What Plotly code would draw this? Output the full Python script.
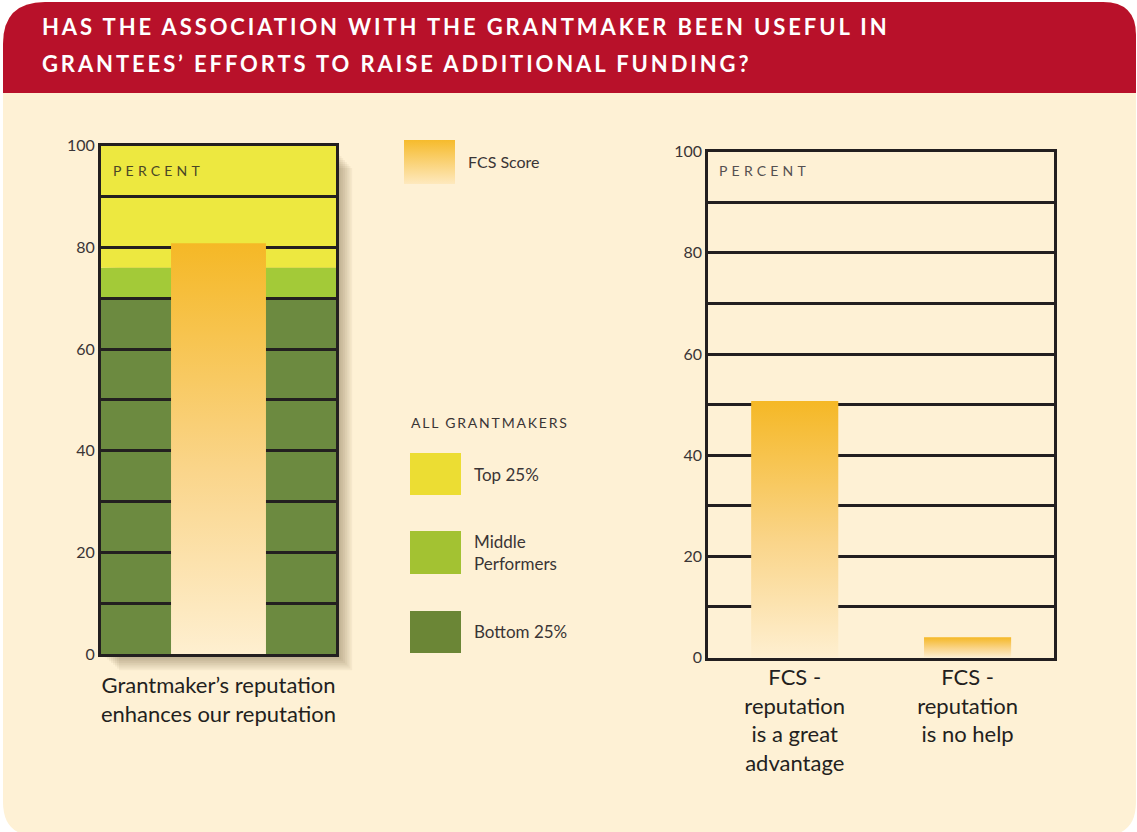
import plotly.graph_objects as go

W, H = 1137, 832

# ---------------- data ----------------
band_names = ["Bottom 25%", "Middle Performers", "Top 25%"]
band_lower = [0, 70, 76]
band_upper = [70, 76, 100]
band_colors = ["#6C8A40", "#A3CA38", "#EDE840"]
legend_colors = ["#6B8636", "#A3C232", "#ECDD33"]

left_categories = ["Grantmaker’s reputation<br>enhances our reputation"]
left_values = [80.8]

right_categories = ["FCS -<br>reputation<br>is a great<br>advantage",
                    "FCS -<br>reputation<br>is no help"]
right_values = [50.7, 4.0]

y_tickvals = [0, 10, 20, 30, 40, 50, 60, 70, 80, 90, 100]
y_ticktext = ["0", "", "20", "", "40", "", "60", "", "80", "", "100"]

# ---------------- style ----------------
INK = "#231F20"
TXT = "#3A3536"
RED = "#B8112A"
CREAM = "#FEF1D5"
FONT = "Lato"
GRAD = [[0, "#FEEFD0"], [0.45, "#FAD58A"], [1, "#F5B826"]]


def px(x):
    return x / W


def py(y):
    return 1 - y / H


def rr_path(x0, y0, x1, y1, tl, tr, br, bl):
    def P(x, y):
        return f"{px(x):.5f},{py(y):.5f}"
    s = f"M {P(x0 + tl, y0)} L {P(x1 - tr, y0)} Q {P(x1, y0)} {P(x1, y0 + tr)} "
    s += f"L {P(x1, y1 - br)} Q {P(x1, y1)} {P(x1 - br, y1)} "
    s += f"L {P(x0 + bl, y1)} Q {P(x0, y1)} {P(x0, y1 - bl)} "
    s += f"L {P(x0, y0 + tl)} Q {P(x0, y0)} {P(x0 + tl, y0)} Z"
    return s


def bar_trace(xc, v, hw, xa, ya):
    return go.Scatter(
        x=[xc - hw, xc + hw, xc + hw, xc - hw, xc - hw],
        y=[0, 0, v, v, 0],
        xaxis=xa, yaxis=ya, mode="lines", line=dict(width=0),
        fill="toself",
        fillgradient=dict(type="vertical", colorscale=GRAD),
        hoverinfo="skip", showlegend=False,
    )


fig = go.Figure()

# left chart bar
left_x = [0.5]
for xc, v in zip(left_x, left_values):
    fig.add_trace(bar_trace(xc, v, 0.202, "x", "y"))

# right chart bars
right_x = list(range(len(right_values)))
for xc, v in zip(right_x, right_values):
    fig.add_trace(bar_trace(xc, v, 0.252, "x2", "y2"))

# legend gradient swatch (overlay pixel axis)
fig.add_trace(go.Scatter(
    x=[404, 455, 455, 404, 404], y=[184, 184, 140, 140, 184],
    xaxis="x3", yaxis="y3", mode="lines", line=dict(width=0),
    fill="toself",
    fillgradient=dict(type="vertical", colorscale=[[0, "#F6BB2C"], [1, "#FEE9BE"]],
                      start=140, stop=184),
    hoverinfo="skip", showlegend=False,
))

shapes = []
# card + header
shapes.append(dict(type="path", xref="paper", yref="paper", layer="below",
                   path=rr_path(3, 2, 1136, 836, 42, 33, 34, 34),
                   fillcolor=CREAM, line=dict(width=0)))
shapes.append(dict(type="path", xref="paper", yref="paper", layer="below",
                   path=rr_path(3, 2, 1136, 93, 42, 33, 0, 0),
                   fillcolor=RED, line=dict(width=0)))
# drop shadow of left chart
for d in range(2, 20, 2):
    shapes.append(dict(type="rect", xref="paper", yref="paper", layer="below",
                       x0=px(101 + d), x1=px(336 + d * 0.9),
                       y0=py(150 + d), y1=py(654 + d * 0.9),
                       fillcolor="rgba(90,70,40,0.055)", line=dict(width=0)))
# performance bands
for lo, hi, c in zip(band_lower, band_upper, band_colors):
    shapes.append(dict(type="rect", xref="x domain", yref="y", layer="below",
                       x0=0, x1=1, y0=lo, y1=hi, fillcolor=c, line=dict(width=0)))
# legend swatches
sw_y = [(611, 653), (531, 574), (453, 495)]
for (y0, y1), c in zip(sw_y, legend_colors):
    shapes.append(dict(type="rect", xref="paper", yref="paper",
                       x0=px(410), x1=px(461), y0=py(y1), y1=py(y0),
                       fillcolor=c, line=dict(width=0)))

annotations = []
def ann(text, x, y, size, color=TXT, bold=False, xanchor="left", spacing=None):
    t = text
    if spacing:
        t = f"<span style='letter-spacing:{spacing}px'>{t}</span>"
    if bold:
        t = f"<b>{t}</b>"
    annotations.append(dict(text=t, x=px(x), y=py(y), xref="paper", yref="paper",
                            xanchor=xanchor, yanchor="middle", showarrow=False,
                            align="left",
                            font=dict(family=FONT, size=size, color=color)))

ann("HAS THE ASSOCIATION WITH THE GRANTMAKER BEEN USEFUL IN", 40, 26, 22,
    color="white", bold=True, spacing=2.9)
ann("GRANTEES’ EFFORTS TO RAISE ADDITIONAL FUNDING?", 40, 63, 22,
    color="white", bold=True, spacing=2.9)
ann("PERCENT", 111, 170, 14, color="#4A4626", spacing=4.2)
ann("PERCENT", 717, 170, 14, color="#555050", spacing=4.2)
ann("FCS Score", 466, 161, 16)
ann("ALL GRANTMAKERS", 409, 422, 14, spacing=1.8)
ann("Top 25%", 472, 474, 17)
ann("Middle<br>Performers", 472, 552, 17)
ann("Bottom 25%", 472, 631, 17)

axis_common = dict(showline=True, mirror=True, linecolor=INK, linewidth=3,
                   zeroline=False, ticks="", fixedrange=True, automargin=False)
yaxis_common = dict(axis_common, range=[0, 100], tickvals=y_tickvals,
                    ticktext=y_ticktext, showgrid=True, gridcolor=INK,
                    gridwidth=2.5, ticklabelstandoff=0,
                    tickfont=dict(family=FONT, size=16, color=TXT))

fig.update_layout(
    width=W, height=H, autosize=False,
    margin=dict(l=0, r=0, t=0, b=0, pad=0, autoexpand=False),
    paper_bgcolor="white",
    plot_bgcolor="rgba(0,0,0,0)",
    showlegend=False,
    shapes=shapes,
    annotations=annotations,
    xaxis=dict(axis_common, domain=[px(101), px(336)], range=[0, 1],
               tickvals=left_x, ticktext=left_categories, showgrid=False,
               ticklabelstandoff=10,
               tickfont=dict(family=FONT, size=22, color=INK), anchor="y"),
    yaxis=dict(yaxis_common, domain=[py(654), py(145.7)], anchor="x"),
    xaxis2=dict(axis_common, domain=[px(708.3), px(1054)], range=[-0.5, 1.5],
                tickvals=right_x, ticktext=right_categories, showgrid=False,
                ticklabelstandoff=-2,
                tickfont=dict(family=FONT, size=22, color=INK), anchor="y2"),
    yaxis2=dict(yaxis_common, domain=[py(657.5), py(151.7)], anchor="x2"),
    xaxis3=dict(domain=[0, 1], range=[0, W], visible=False, fixedrange=True,
                anchor="y3"),
    yaxis3=dict(domain=[0, 1], range=[H, 0], visible=False, fixedrange=True,
                anchor="x3"),
)

fig.write_html(
    "out.html",
    config={"displayModeBar": False, "responsive": False},
    post_script="document.body.style.margin='0';"
                "document.documentElement.style.overflow='hidden';"
                "document.body.style.overflow='hidden';",
)
